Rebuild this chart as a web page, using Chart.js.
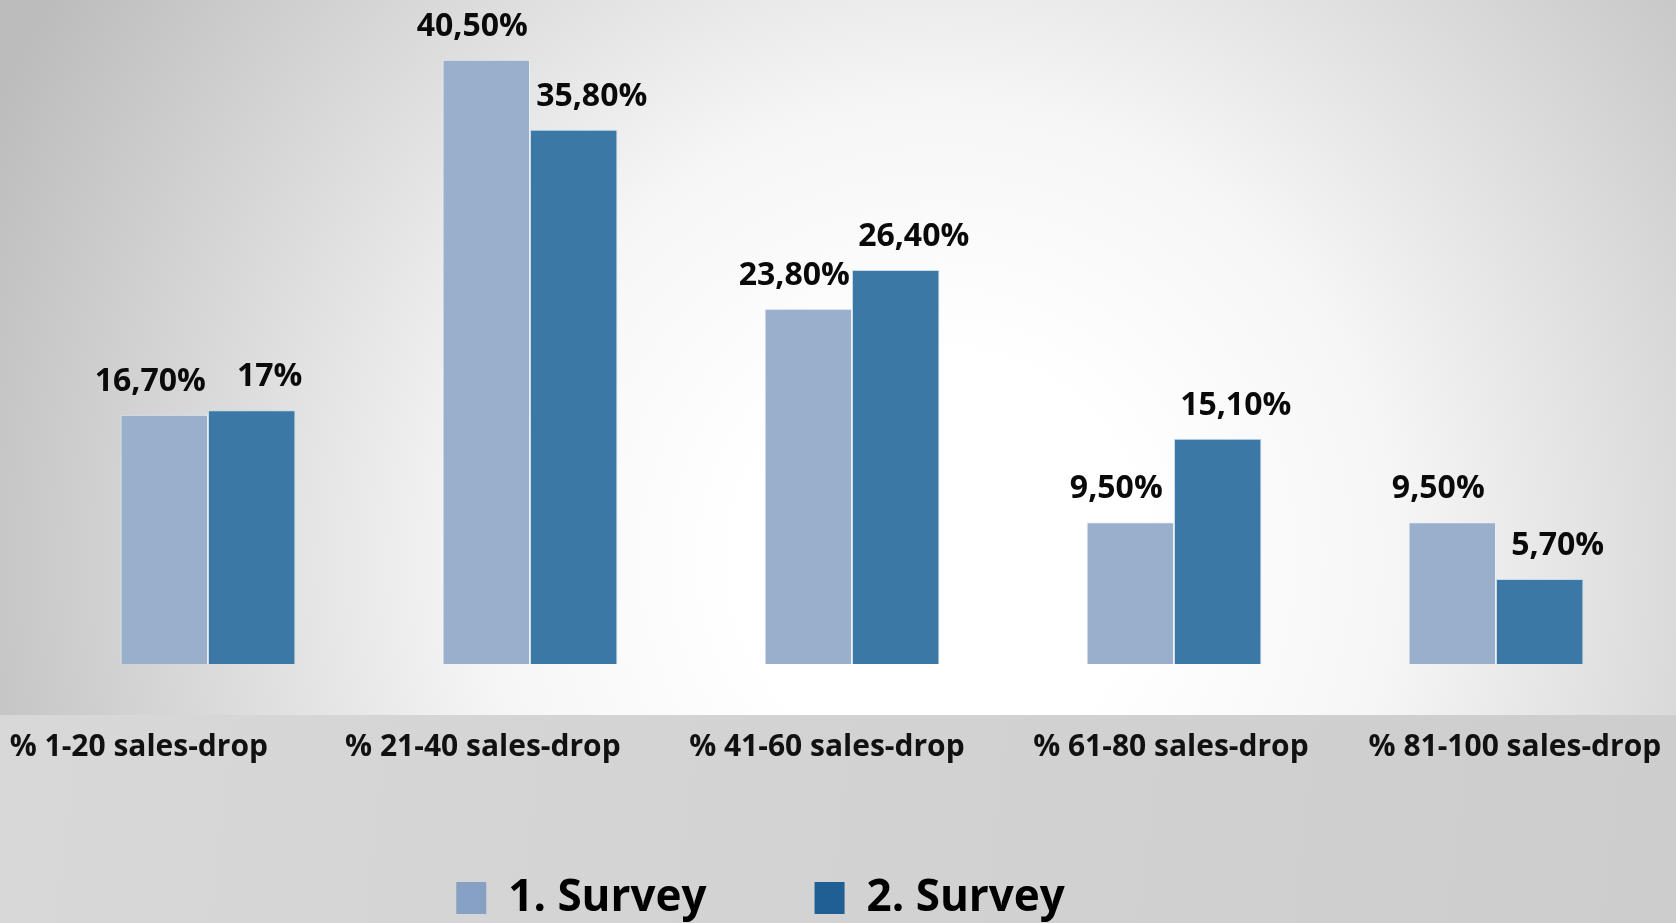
<!DOCTYPE html>
<html>
<head>
<meta charset="utf-8">
<script src="https://cdn.jsdelivr.net/npm/chart.js@4.4.0/dist/chart.umd.min.js"></script>
<style>
  html, body { margin: 0; padding: 0; background: #ffffff; overflow: hidden; }
  #wrap { width: 1676px; height: 923px; position: relative; }
</style>
</head>
<body>
<div id="wrap"><canvas id="c" width="1676" height="923"></canvas></div>
<script>
const categories = ['% 1-20 sales-drop', '% 21-40 sales-drop', '% 41-60 sales-drop', '% 61-80 sales-drop', '% 81-100 sales-drop'];
const survey1 = [16.7, 40.5, 23.8, 9.5, 9.5];
const survey2 = [17, 35.8, 26.4, 15.1, 5.7];
const seriesNames = ['1. Survey', '2. Survey'];

const barColors = ['#9aafcb', '#3b78a5'];
const legendColors = ['#87a1c4', '#1f5f94'];
const labelShift = [-14, 18];
const FONT = '"Open Sans", "Noto Sans", "DejaVu Sans", sans-serif';

function fmtPct(v) {
  return Number.isInteger(v) ? v + '%' : v.toFixed(2).replace('.', ',') + '%';
}

const backgroundPlugin = {
  id: 'backgroundPlugin',
  beforeDraw(chart) {
    const { ctx, width, height, chartArea } = chart;
    ctx.save();
    const g = ctx.createRadialGradient(940, 560, 200, 940, 560, 1050);
    g.addColorStop(0, '#ffffff');
    g.addColorStop(0.3, '#f6f6f6');
    g.addColorStop(1, '#bcbcbc');
    ctx.fillStyle = g;
    ctx.fillRect(0, 0, width, height);
    const bandTop = chartArea.bottom + 51;
    const lg = ctx.createLinearGradient(0, bandTop, width, height);
    lg.addColorStop(0, '#d8d8d8');
    lg.addColorStop(1, '#cdcdcd');
    ctx.fillStyle = lg;
    ctx.fillRect(0, bandTop, width, height - bandTop);
    ctx.restore();
  }
};

const valueLabelPlugin = {
  id: 'valueLabelPlugin',
  afterDatasetsDraw(chart) {
    const { ctx } = chart;
    ctx.save();
    ctx.font = 'bold 32px ' + FONT;
    ctx.fillStyle = '#0a0a0a';
    ctx.textAlign = 'center';
    ctx.textBaseline = 'alphabetic';
    chart.data.datasets.forEach((ds, di) => {
      const meta = chart.getDatasetMeta(di);
      meta.data.forEach((bar, i) => {
        ctx.fillText(fmtPct(ds.data[i]), bar.x + labelShift[di], bar.y - 24);
      });
    });
    ctx.restore();
  }
};

new Chart(document.getElementById('c'), {
  type: 'bar',
  data: {
    labels: categories,
    datasets: [
      { label: seriesNames[0], data: survey1, backgroundColor: barColors[0], borderColor: 'rgba(235,240,247,0.9)', borderWidth: 1 },
      { label: seriesNames[1], data: survey2, backgroundColor: barColors[1], borderColor: 'rgba(200,215,230,0.9)', borderWidth: 1 }
    ]
  },
  options: {
    responsive: false,
    animation: false,
    devicePixelRatio: 1,
    layout: { padding: { left: 47, right: 19, top: 0, bottom: -7 } },
    datasets: { bar: { barPercentage: 1, categoryPercentage: 0.543 } },
    scales: {
      x: { type: 'category', display: false, offset: true },
      y: { display: false, min: 0, max: 44.5 },
      x2: {
        type: 'linear',
        position: 'bottom',
        offset: false,
        min: -0.267,
        max: 4.413,
        afterBuildTicks: (axis) => { axis.ticks = categories.map((_, i) => ({ value: i })); },
        afterFit: (axis) => { axis.height = 104; axis.paddingLeft = 0; axis.paddingRight = 0; },
        grid: { display: false, drawTicks: false, offset: false },
        border: { display: false },
        ticks: {
          callback: (v) => categories[v],
          autoSkip: false,
          maxRotation: 0,
          minRotation: 0,
          padding: 65,
          color: '#111111',
          font: { family: FONT, size: 30, weight: 'bold' }
        }
      }
    },
    plugins: {
      tooltip: { enabled: false },
      legend: {
        position: 'bottom',
        labels: {
          boxWidth: 30,
          boxHeight: 32,
          padding: 108,
          color: '#111111',
          font: { family: FONT, size: 44, weight: 'bold' },
          generateLabels: (chart) => chart.data.datasets.map((ds, i) => ({
            text: i === seriesNames.length - 1 ? ds.label + ' '.repeat(16) : ds.label,
            fillStyle: legendColors[i],
            strokeStyle: legendColors[i],
            lineWidth: 0,
            hidden: false,
            datasetIndex: i
          }))
        }
      }
    }
  },
  plugins: [backgroundPlugin, valueLabelPlugin]
});
</script>
</body>
</html>
